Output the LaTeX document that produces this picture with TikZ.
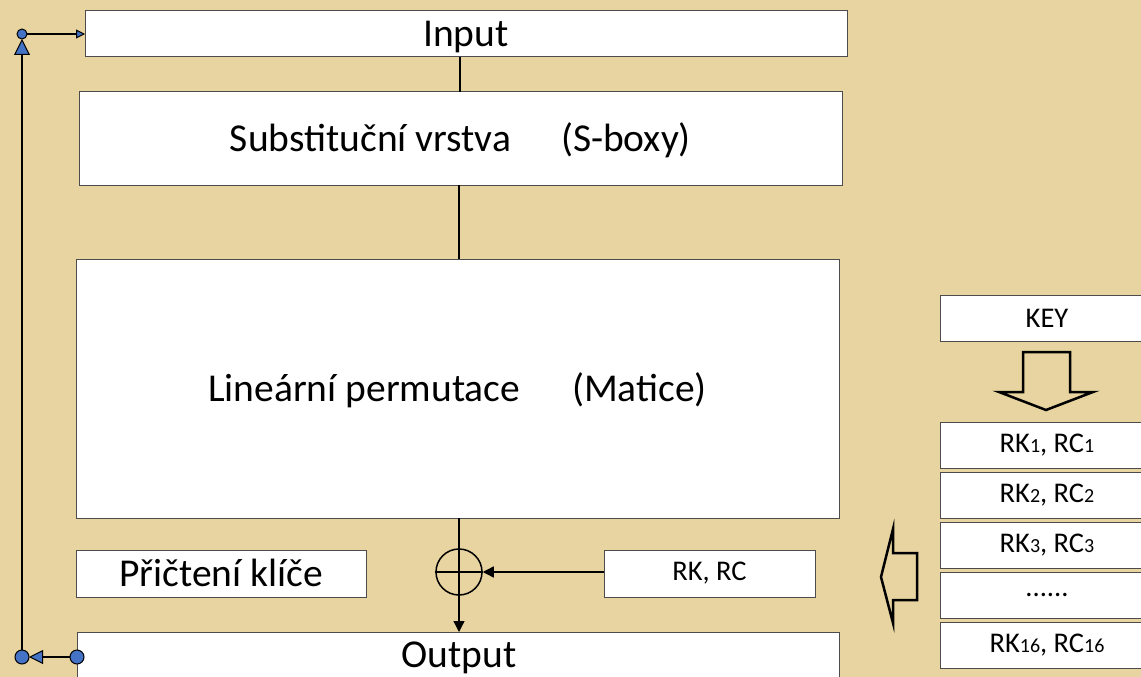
\documentclass[tikz,border=0pt]{standalone}
\usepackage{fontspec}
\setmainfont{Carlito}
\usetikzlibrary{arrows.meta}
\definecolor{parch}{RGB}{232,212,160}
\definecolor{dotblue}{RGB}{68,114,196}
\newcommand{\sub}[1]{{\fontsize{20}{20}\selectfont #1}}
\begin{document}
\begin{tikzpicture}[x=1pt,y=-1pt,
  box/.style={draw=black!70, line width=1pt, fill=white, inner sep=0pt, outer sep=0pt, anchor=north west},
  big/.style={font=\fontsize{39.5}{44}\selectfont, text height=28pt, text depth=3pt},
  small/.style={font=\fontsize{28.5}{32}\selectfont},
  flow/.style={draw=black, line width=1.3pt},
  bluedot/.style={draw=black, line width=1pt, fill=dotblue},
  hollow/.style={draw=black, line width=2.5pt, line join=miter}]
\useasboundingbox (0,0) rectangle (1141,677);
\clip (0,0) rectangle (1141,677);
\fill[parch] (0,0) rectangle (1141,677);

% main column
\node[box, big, minimum width=762pt, minimum height=46pt] (input) at (85,11) {Input};
\node[box, big, minimum width=763pt, minimum height=93pt] (sbox) at (79,92) {Substituční vrstva\hspace*{50pt}(S-boxy)};
\node[box, big, minimum width=763pt, minimum height=259pt] (lin) at (76,259) {Lineární permutace\hspace*{52pt}(Matice)};
\node[box, big, minimum width=290pt, minimum height=47pt] (add) at (76,550) {Přičtení klíče};
\node[box, small, minimum width=211pt, minimum height=47pt] (rk) at (604,550) {RK, RC};
\node[box, minimum width=762pt, minimum height=60pt] (output) at (77,632) {};
\node[big, anchor=center, inner sep=0pt] (outtxt) at (459,654.5) {Output};
\node[draw=black, line width=1.5pt, circle, minimum size=46pt, inner sep=0pt] (xor) at (459,572) {};

% right column
\node[box, small, minimum width=214pt, minimum height=46pt] (key) at (940,295) {KEY};
\node[box, small, minimum width=214pt, minimum height=46pt] (k1) at (940,422) {RK\sub{1}, RC\sub{1}};
\node[box, small, minimum width=214pt, minimum height=46pt] (k2) at (940,472) {RK\sub{2}, RC\sub{2}};
\node[box, small, minimum width=214pt, minimum height=46pt] (k3) at (940,522) {RK\sub{3}, RC\sub{3}};
\node[box, small, minimum width=214pt, minimum height=46pt] (kd) at (940,572) {......};
\node[box, small, minimum width=214pt, minimum height=46pt] (k16) at (940,622) {RK\sub{16}, RC\sub{16}};

% connectors
\draw[flow] (input.south -| 460,0) -- (sbox.north -| 460,0);
\draw[flow] (sbox.south -| 459,0) -- (lin.north -| 459,0);
\draw[flow, -{Triangle[length=11pt, width=11pt]}] (lin.south -| xor) -- (output.north -| xor);
\draw[flow] (xor.west) -- (xor.east);
\draw[flow, -{Triangle[length=11pt, width=11pt]}] (rk.west |- xor) -- (xor.east);

% feedback loop
\coordinate (ol) at (77,657);
\coordinate (bl) at (22,657);
\coordinate (tl) at (22,34);
\draw[flow, -{Triangle[length=14pt, width=14pt, fill=dotblue, line width=1pt]}, shorten >=7pt] (ol) -- (bl);
\draw[flow, -{Triangle[length=16pt, width=16pt, fill=dotblue, line width=1pt]}, shorten >=5pt] (bl) -- (tl);
\draw[flow, -{Triangle[length=9pt, width=9pt, fill=dotblue, line width=1pt]}] (tl) -- (input.west);
\draw[bluedot] (ol) circle (7pt);
\draw[bluedot] (bl) circle (7pt);
\draw[bluedot] (tl) circle (5pt);

% hollow arrows
\draw[hollow] (1023,352) -- (1070,352) -- (1070,392) -- (1093,392) -- (1046,410) -- (999,392) -- (1023,392) -- cycle;
\draw[hollow] (893,529) -- (881,577) -- (893,623) -- (893,600) -- (917,600) -- (917,553) -- (893,553) -- cycle;
\end{tikzpicture}
\end{document}
